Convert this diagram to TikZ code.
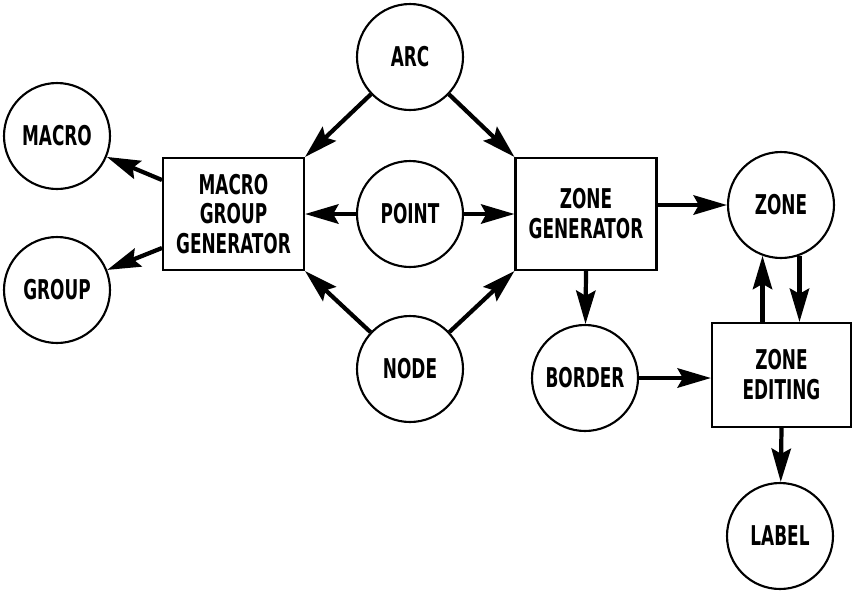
\documentclass[tikz,border=0pt]{standalone}
\usepackage{fontspec}
\setmainfont{DejaVu Sans Condensed}[FakeStretch=0.69]
\usetikzlibrary{arrows.meta,calc}
\begin{document}
\begin{tikzpicture}[x=0.02cm,y=-0.02cm,
  font=\fontsize{15.5}{17}\selectfont\bfseries,
  blob/.style={draw,circle,line width=1.2pt,minimum size=2.12cm,inner sep=0pt,align=center},
  proc/.style={draw,rectangle,line width=1.2pt,minimum width=2.82cm,minimum height=2.24cm,inner sep=0pt,align=center},
  flow/.style={line width=2.4pt,-{Stealth[length=19pt,width=11pt,inset=3pt]}}]
\useasboundingbox (0,0) rectangle (855,593);

% data stores
\node[blob] (arc)    at (410,57)  {ARC};
\node[blob] (macro)  at (57,136)  {MACRO};
\node[blob] (group)  at (57,290)  {GROUP};
\node[blob] (point)  at (410,214) {POINT};
\node[blob] (nodec)  at (410,369) {NODE};
\node[blob] (zone)   at (781,205) {ZONE};
\node[blob] (border) at (585,378) {BORDER};
\node[blob] (label)  at (780,536) {LABEL};

% processes
\node[proc] (mgg) at (233.5,214) {MACRO\\GROUP\\GENERATOR};
\node[proc] (zg)  at (586,214)   {ZONE\\GENERATOR};
\node[proc,minimum width=2.78cm,minimum height=2.08cm] (ze) at (781.5,375) {ZONE\\EDITING};

% flows
\draw[flow] ($(mgg.west)+(0,-34)$) -- (macro);
\draw[flow] ($(mgg.west)+(0,34)$) -- (group);
\draw[flow] (arc) -- (mgg.north east);
\draw[flow] (arc) -- (zg.north west);
\draw[flow] (point) -- (point -| mgg.east);
\draw[flow] (point) -- (point -| zg.west);
\draw[flow] (nodec) -- (mgg.south east);
\draw[flow] (nodec) -- (zg.south west);
\draw[flow] (zg.east |- zone) -- (zone);
\draw[flow] (zg.south) -- (border);
\draw[flow] (border) -- (border -| ze.west);
\draw[flow] (ze.north -| zone.250) -- (zone.250);
\draw[flow] (zone.290) -- (zone.290 |- ze.north);
\draw[flow] (ze.south) -- (label);
\end{tikzpicture}
\end{document}
